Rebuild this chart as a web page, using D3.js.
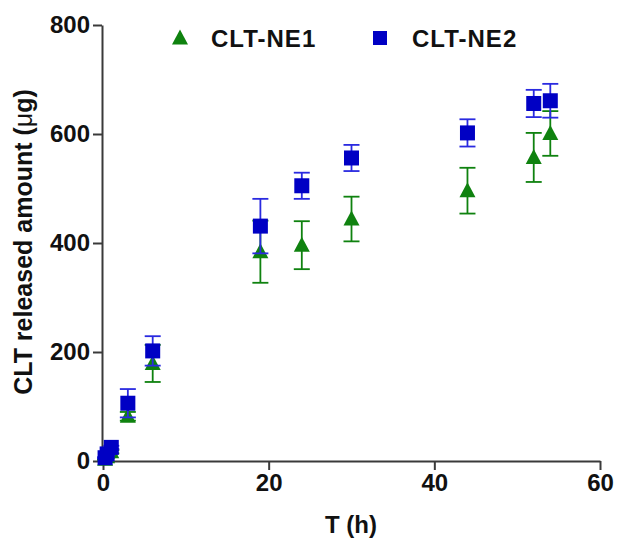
<!DOCTYPE html>
<html><head><meta charset="utf-8">
<script src="https://cdn.jsdelivr.net/npm/d3@7"></script>
<style>
body{margin:0;background:#fff;}
svg text{font-family:"Liberation Sans",Arial,sans-serif;font-weight:bold;}
</style></head>
<body><svg id="c" width="618" height="543"></svg>
<script>
const times = [0.25, 0.5, 1, 3, 6, 19, 24, 30, 44, 52, 54];
const ne1Mean = [3, 8, 17, 82, 179, 384, 396, 444, 496, 557, 601];
const ne1SD   = [1, 2, 3, 8, 34, 57, 44, 41, 42, 45, 41];
const ne2Mean = [6, 13, 25, 106, 202, 431, 505, 556, 602, 656, 661];
const ne2SD   = [1, 2, 3, 26, 27, 50, 24, 24, 25, 25, 31];
const xTicks = [0, 20, 40, 60];
const yTicks = [0, 200, 400, 600, 800];
const seriesNames = ["CLT-NE1", "CLT-NE2"];

const green = "#0f820f", blue = "#0000c4", blueBar = "#2a2ae0";
const svg = d3.select("#c");
const x = d3.scaleLinear().domain([0, 60]).range([103, 600]);
const y = d3.scaleLinear().domain([0, 800]).range([461, 25]);

const axisColor = "#3a3a3a";
const xa = svg.append("g").attr("transform", `translate(0,${y(0)})`)
  .call(d3.axisBottom(x).tickValues(xTicks).tickSize(9).tickSizeOuter(0).tickPadding(4));
const ya = svg.append("g").attr("transform", `translate(${x(0)-1},0)`)
  .call(d3.axisLeft(y).tickValues(yTicks).tickSize(9).tickSizeOuter(0).tickPadding(3));
[xa, ya].forEach(a => {
  a.selectAll("path,line").attr("stroke", axisColor).attr("stroke-width", 2);
  a.selectAll("text").attr("fill", "#111").style("font-size", "24px").style("font-weight", "bold");
});

// axis titles
svg.append("text").attr("x", 351).attr("y", 533).attr("text-anchor", "middle")
  .style("font-size", "24px").attr("fill", "#111").text("T (h)");
svg.append("text").attr("transform", "translate(32,242) rotate(-90)").attr("text-anchor", "middle")
  .style("font-size", "25px").attr("fill", "#111")
  .html('CLT released amount (<tspan style="font-weight:normal">μ</tspan>g)');

function errorBars(mean, sd, color) {
  const g = svg.append("g").attr("stroke", color).attr("stroke-width", 1.8).attr("fill", "none");
  times.forEach((t, i) => {
    const cx = x(t), y1 = y(mean[i] + sd[i]), y2 = y(mean[i] - sd[i]);
    g.append("line").attr("x1", cx).attr("x2", cx).attr("y1", y1).attr("y2", y2);
    g.append("line").attr("x1", cx - 8).attr("x2", cx + 8).attr("y1", y1).attr("y2", y1);
    g.append("line").attr("x1", cx - 8).attr("x2", cx + 8).attr("y1", y2).attr("y2", y2);
  });
}
function triPath(cx, cy) {
  return `M${cx},${cy - 8.5}L${cx + 8},${cy + 6.5}L${cx - 8},${cy + 6.5}Z`;
}

// NE1 triangles
errorBars(ne1Mean, ne1SD, green);
svg.append("g").selectAll("path").data(times).join("path")
  .attr("d", (t, i) => triPath(x(t), y(ne1Mean[i]))).attr("fill", green);

// NE2 squares
errorBars(ne2Mean, ne2SD, blueBar);
svg.append("g").selectAll("rect").data(times).join("rect")
  .attr("x", t => x(t) - 7.5).attr("y", (t, i) => y(ne2Mean[i]) - 7.5)
  .attr("width", 15).attr("height", 15).attr("fill", blue);

// legend
const lg = svg.append("g");
lg.append("path").attr("d", triPath(180, 38)).attr("fill", green);
lg.append("text").attr("x", 211).attr("y", 47).style("font-size", "24px").style("letter-spacing", "1px")
  .attr("fill", "#111").text(seriesNames[0]);
lg.append("rect").attr("x", 373).attr("y", 31).attr("width", 14).attr("height", 14).attr("fill", blue);
lg.append("text").attr("x", 412).attr("y", 47).style("font-size", "24px").style("letter-spacing", "1px")
  .attr("fill", "#111").text(seriesNames[1]);
</script></body></html>
